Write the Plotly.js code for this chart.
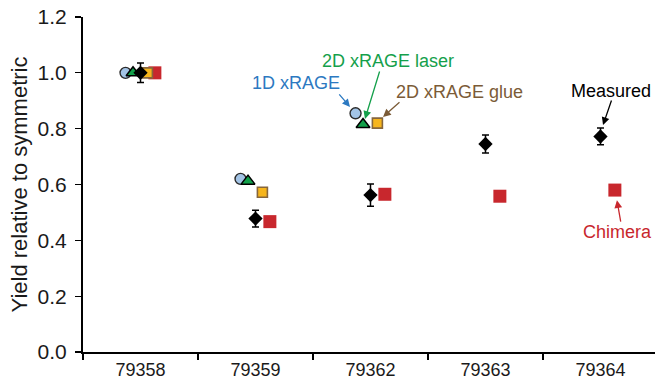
<!DOCTYPE html>
<html>
<head>
<meta charset="utf-8">
<script src="https://cdn.plot.ly/plotly-3.0.1.min.js"></script>
<style>
  html, body { margin: 0; padding: 0; background: #fff; }
  #chart { width: 655px; height: 385px; }
</style>
</head>
<body>
<div id="chart"></div>
<script>
// Shot numbers along the x axis
const shots = ["79358", "79359", "79362", "79363", "79364"];

// Yield relative to the symmetric shot, per model / measurement
const xrage1D      = [1.00, 0.62, 0.855, null, null];
const xrage2DLaser = [1.00, 0.612, 0.815, null, null];
const xrage2DGlue  = [1.00, 0.572, 0.82, null, null];
const measured     = [1.00, 0.478, 0.562, 0.745, 0.772];
const measuredErr  = [0.035, 0.03, 0.04, 0.032, 0.03];
const chimera      = [1.00, 0.467, 0.565, 0.558, 0.58];

// y-axis tick values
const yTicks = [0, 0.2, 0.4, 0.6, 0.8, 1.0, 1.2];

const FONT = "Liberation Sans, Arial, sans-serif";
const idx = shots.map((_, i) => i);
const boundaries = [-0.5, 0.5, 1.5, 2.5, 3.5, 4.5];
const xRange = [-0.5, 4.474];

// Spread the series horizontally within each shot slot
function shifted(values, dx) {
  const xs = [], ys = [];
  values.forEach((v, i) => { if (v !== null) { xs.push(i + dx); ys.push(v); } });
  return { xs, ys };
}

const s1 = shifted(xrage1D, -0.13);
const s2 = shifted(xrage2DLaser, -0.065);
const s3 = shifted(xrage2DGlue, 0.06);
const s4 = shifted(measured, 0);
const s5 = shifted(chimera, 0.125);

const traces = [
  {
    x: s5.xs, y: s5.ys, type: "scatter", mode: "markers", name: "Chimera",
    marker: { symbol: "square", size: 13, color: "#c8272d", line: { width: 0 } }
  },
  {
    x: s3.xs, y: s3.ys, type: "scatter", mode: "markers", name: "2D xRAGE glue",
    marker: { symbol: "square", size: 10, color: "#f6b51c", line: { width: 1.6, color: "#86663c" } }
  },
  {
    x: s1.xs, y: s1.ys, type: "scatter", mode: "markers", name: "1D xRAGE",
    marker: { symbol: "circle", size: 11, color: "#a3c4e6", line: { width: 1.4, color: "#2b2b2b" } }
  },
  {
    x: s2.xs, y: s2.ys, type: "scatter", mode: "markers", name: "2D xRAGE laser",
    marker: { symbol: "triangle-up", size: 12, color: "#12a04a", line: { width: 1.5, color: "#000" } }
  },
  {
    x: s4.xs, y: s4.ys, type: "scatter", mode: "markers", name: "Measured",
    error_y: { type: "data", array: measuredErr, visible: true, color: "#000", thickness: 1.5, width: 3.5 },
    marker: { symbol: "diamond", size: 11, color: "#000", line: { width: 0 } }
  }
];

function arrow(x, y, ax, ay, color) {
  return {
    x, y, ax, ay, xref: "x", yref: "y", axref: "x", ayref: "y",
    text: "", showarrow: true, arrowhead: 2, arrowsize: 1.2, arrowwidth: 1.3,
    arrowcolor: color, standoff: 0, startstandoff: 0
  };
}
function label(x, y, text, color) {
  return {
    x, y, xref: "x", yref: "y", text, showarrow: false,
    font: { family: FONT, size: 18, color }, xanchor: "center", yanchor: "middle"
  };
}

const annotations = [
  label(1.352, 0.964, "1D xRAGE", "#2c79c1"),
  arrow(1.822, 0.878, 1.717, 0.928, "#2c79c1"),
  label(2.152, 1.042, "2D xRAGE laser", "#14a04b"),
  arrow(1.952, 0.835, 2.083, 1.010, "#14a04b"),
  label(2.778, 0.931, "2D xRAGE glue", "#7b5b37"),
  arrow(2.109, 0.842, 2.265, 0.899, "#7b5b37"),
  label(4.091, 0.935, "Measured", "#000"),
  arrow(4.022, 0.813, 4.10, 0.906, "#000"),
  label(4.152, 0.430, "Chimera", "#c8272d"),
  arrow(4.143, 0.544, 4.178, 0.462, "#c8272d")
];

const layout = {
  width: 655, height: 385,
  margin: { l: 83, r: 0, t: 17, b: 33 },
  paper_bgcolor: "#fff", plot_bgcolor: "#fff",
  showlegend: false,
  font: { family: FONT, size: 18, color: "#1a1a1a" },
  xaxis: {
    range: xRange, tickmode: "array", tickvals: idx, ticktext: shots,
    ticks: "", showgrid: false, zeroline: false,
    showline: true, linecolor: "#000", linewidth: 2,
    tickfont: { family: FONT, size: 18, color: "#1a1a1a" },
    minor: { tickmode: "array", tickvals: boundaries, ticks: "outside", ticklen: 6, tickwidth: 1.3, tickcolor: "#000", showgrid: false },
    fixedrange: true
  },
  xaxis2: {
    overlaying: "x", anchor: "y", side: "bottom", range: xRange,
    tickmode: "array", tickvals: boundaries, ticks: "inside", ticklen: 6, tickwidth: 1.3, tickcolor: "#000",
    showticklabels: false, showline: false, showgrid: false, zeroline: false
  },
  yaxis: {
    range: [0, 1.2], tickmode: "array", tickvals: yTicks,
    ticktext: yTicks.map(v => v.toFixed(1)),
    ticks: "outside", ticklen: 6, tickwidth: 1.3, tickcolor: "#000",
    showgrid: false, zeroline: false, showline: true, linecolor: "#000", linewidth: 2,
    tickfont: { family: FONT, size: 21, color: "#1a1a1a" },
    ticklabelstandoff: 4,
    title: { text: "Yield relative to symmetric", font: { family: FONT, size: 22, color: "#1a1a1a" }, standoff: 4 },
    fixedrange: true
  },
  yaxis2: {
    overlaying: "y", anchor: "x", side: "left", range: [0, 1.2],
    tickmode: "array", tickvals: yTicks, ticks: "inside", ticklen: 6, tickwidth: 1.3, tickcolor: "#000",
    showticklabels: false, showline: false, showgrid: false, zeroline: false
  },
  annotations
};

Plotly.newPlot("chart", traces, layout, { displayModeBar: false, staticPlot: true });
</script>
</body>
</html>
